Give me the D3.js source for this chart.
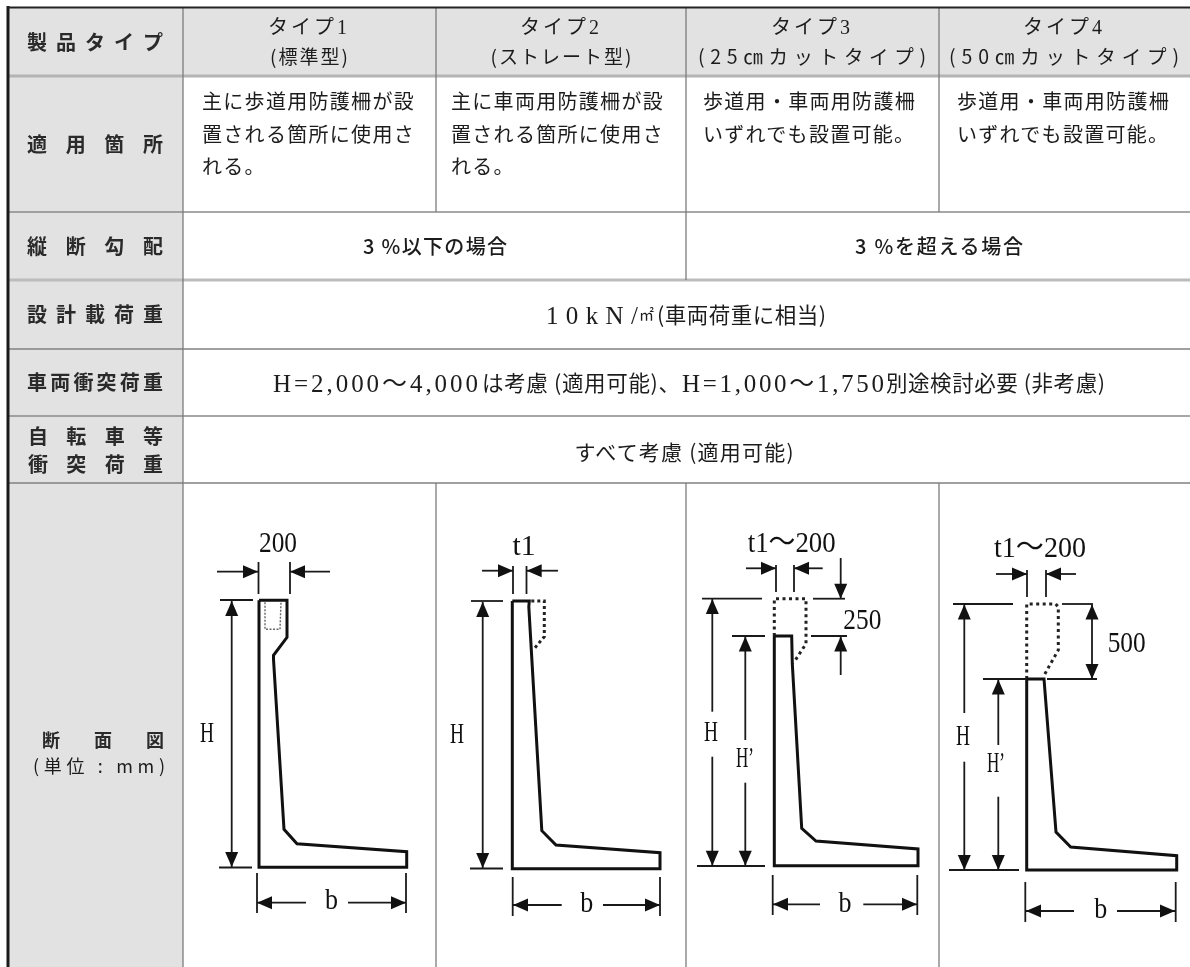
<!DOCTYPE html>
<html lang="ja"><head><meta charset="utf-8">
<script src="https://cdn.jsdelivr.net/npm/d3@7/dist/d3.min.js"></script>
<style>html,body{margin:0;padding:0;background:#fff}svg{display:block;filter:blur(0.35px)}</style>
</head><body><svg id="c" width="1190" height="967"></svg>
<script>
// ---------- table content ----------
const rowLabels = ["製品タイプ","適用箇所","縦断勾配","設計載荷重","車両衝突荷重"];
const rowLabelBikeLines = ["自転車等","衝突荷重"];
const rowLabelSection = "断面図";
const rowLabelSectionUnit = "(単位 : mm)";
const typeNames = ["タイプ1","タイプ2","タイプ3","タイプ4"];
const typeSubNames = ["(標準型)","(ストレート型)","(25㎝カットタイプ)","(50㎝カットタイプ)"];
const siteLines = [
  ["主に歩道用防護柵が設","置される箇所に使用さ","れる。"],
  ["主に車両用防護柵が設","置される箇所に使用さ","れる。"],
  ["歩道用・車両用防護柵","いずれでも設置可能。"],
  ["歩道用・車両用防護柵","いずれでも設置可能。"]
];
const gradientTexts = ["3 %以下の場合","3 %を超える場合"];
const designLoadParts = ["10kN/","㎡","(車両荷重に相当)"];
const impactParts = ["H=2,000〜4,000","は考慮 (適用可能)、","H=1,000〜1,750","別途検討必要 (非考慮)"];
const bikeText = "すべて考慮 (適用可能)";

// ---------- wall section profiles: [distance from heel, height above base] ----------
const type1Solid  = [[0,267],[28,267],[28,230],[14.5,212],[14.5,208],[25,38],[38,23.5],[147.7,15.6],[147.7,0],[0,0],[0,267]];
const type1Dotted = [[6,265],[6,238],[21,238],[22,265]];
const type2Solid  = [[0,267.6],[17,267.6],[16.5,262],[29.5,38],[43.7,23.7],[147.7,16],[147.7,0],[0,0],[0,267.6]];
const type2Dotted = [[19,267.6],[32,267.6],[32,232],[21,219]];
const type3Solid  = [[0,229.7],[17.4,229.7],[18,202],[27.4,37.4],[41.7,24.7],[143.7,16.7],[143.7,0],[0,0],[0,229.7]];
const type3Dotted = [[0,229.7],[0,267],[31.7,267],[31.7,222],[20.7,205]];
const type4Solid  = [[0,191],[17.3,191],[29.3,38],[44,23],[150,14.3],[150,0],[0,0],[0,191]];
const type4Dotted = [[0,191],[0,266],[29,266],[31.6,263],[31.6,220],[17,194]];

// ---------- layout ----------
const W = 1190, H = 967;
const MONO = '"Liberation Serif","Noto Sans CJK JP",serif';
const JP = '"Liberation Serif","Noto Sans CJK JP",sans-serif';
const GOTHIC = '"Noto Sans CJK JP",sans-serif';

const svg = d3.select("#c");
svg.append("rect").attr("width",W).attr("height",H).attr("fill","#fff");
const gGrid = svg.append("g"), gText = svg.append("g"), gDraw = svg.append("g");

gGrid.append("rect").attr("x",8).attr("y",8).attr("width",175).attr("height",H-8).attr("fill","#e2e2e2");
gGrid.append("rect").attr("x",183).attr("y",8).attr("width",W-183).attr("height",68).attr("fill","#e2e2e2");

const hLines = [[76,3,"#b4b4b4"],[212,1.5,"#8a8a8a"],[280,3,"#bcbcbc"],[349,1.5,"#808080"],[416,1.5,"#8a8a8a"],[483,1.5,"#808080"]];
gGrid.selectAll("line.h").data(hLines).join("line").attr("class","h")
  .attr("x1",8).attr("x2",W).attr("y1",d=>d[0]).attr("y2",d=>d[0])
  .attr("stroke-width",d=>d[1]).attr("stroke",d=>d[2]);
const vLines = [[183,8,967],[436,8,212],[436,483,967],[686,8,280],[686,483,967],[939,8,212],[939,483,967]];
gGrid.selectAll("line.v").data(vLines).join("line").attr("class","v")
  .attr("x1",d=>d[0]).attr("x2",d=>d[0]).attr("y1",d=>d[1]).attr("y2",d=>d[2])
  .attr("stroke","#7c7c7c").attr("stroke-width",1.3);
gGrid.append("line").attr("x1",8).attr("x2",8).attr("y1",6).attr("y2",967).attr("stroke","#1a1a1a").attr("stroke-width",3);
gGrid.append("line").attr("x1",7).attr("x2",W).attr("y1",7.5).attr("y2",7.5).attr("stroke","#222").attr("stroke-width",2);

function text(g,x,y,s,o={}){
  const t = g.append("text").attr("x",x).attr("y",y).attr("dy",".36em").text(s)
    .attr("text-anchor",o.anchor||"middle").attr("font-family",o.font||JP)
    .attr("font-size",o.size||20).attr("font-weight",o.weight||400).attr("fill",o.fill||"#1c1c1c");
  if(o.ls) t.attr("letter-spacing",o.ls);
  if(o.len) t.attr("textLength",o.len).attr("lengthAdjust",o.spacing?"spacing":"spacingAndGlyphs");
  return t;
}
// spread a row label's characters across the first column
function spread(s,y,x0=38,x1=153,size=20){
  const sc = d3.scalePoint().domain(d3.range(s.length)).range([x0,x1]);
  [...s].forEach((c,i)=>text(gText,sc(i),y,c,{size,font:GOTHIC,weight:700,fill:"#2a2a2a"}));
}
const labelY = [43,145,247,315,383];
rowLabels.forEach((s,i)=>spread(s,labelY[i],37,153));
spread(rowLabelBikeLines[0],437,38,153);
spread(rowLabelBikeLines[1],465,38,153);
spread(rowLabelSection,741,51,155,18);
text(gText,99,767,rowLabelSectionUnit,{size:18,font:GOTHIC,len:132,spacing:true});

const colCenter = [309,561,812,1064];
const subLen = [78,141,228,230];
typeNames.forEach((s,i)=>text(gText,colCenter[i],27,s,{size:20,ls:3}));
typeSubNames.forEach((s,i)=>text(gText,colCenter[i],57,s,{size:i<2?19:19.5,font:GOTHIC,len:subLen[i],spacing:true}));

const bodyX = [202,451,703,957], bodyY=[102,135,167];
siteLines.forEach((lines,i)=>lines.forEach((l,j)=>
  text(gText,bodyX[i],bodyY[j],l,{anchor:"start",size:20,font:GOTHIC,ls:1.3})));

text(gText,435,247,gradientTexts[0],{size:20,font:GOTHIC,weight:500,len:144,spacing:true});
text(gText,939,247,gradientTexts[1],{size:20,font:GOTHIC,weight:500,len:168,spacing:true});
const designSpans = [[546,92,25,JP],[639,16,15,GOTHIC],[657,169,21.5,GOTHIC]];
designLoadParts.forEach((s,i)=>text(gText,designSpans[i][0],315,s,{anchor:"start",size:designSpans[i][2],font:designSpans[i][3],len:designSpans[i][1],spacing:true}));
const impactSpans = [[273,205],[482,198],[682,202],[886,219]];
impactParts.forEach((s,i)=>text(gText,impactSpans[i][0],383,s,{anchor:"start",size:i%2?21.5:25,font:i%2?GOTHIC:JP,len:impactSpans[i][1],spacing:true}));
text(gText,684,452,bikeText,{size:21,font:GOTHIC,len:219,spacing:true});

// ---------- wall section drawings ----------
const sections = [
  {x0:259,base:867.3,solid:type1Solid,dotted:type1Dotted,dw:1.4,dd:"2 1.5",dc:"#666"},
  {x0:512.3,base:868.7,solid:type2Solid,dotted:type2Dotted,dw:3,dd:"3 3",dc:"#222"},
  {x0:774.3,base:865.7,solid:type3Solid,dotted:type3Dotted,dw:3,dd:"3 3.5",dc:"#222"},
  {x0:1026.7,base:870,solid:type4Solid,dotted:type4Dotted,dw:3,dd:"3 3.5",dc:"#222"}
];
sections.forEach(s=>{
  const sx = d3.scaleLinear().domain([0,100]).range([s.x0,s.x0+100]);
  const sy = d3.scaleLinear().domain([0,100]).range([s.base,s.base-100]);
  const line = d3.line().x(d=>sx(d[0])).y(d=>sy(d[1]));
  gDraw.append("path").attr("d",line(s.dotted)).attr("fill","none").attr("stroke",s.dc)
    .attr("stroke-width",s.dw).attr("stroke-dasharray",s.dd);
  gDraw.append("path").attr("d",line(s.solid)).attr("fill","none").attr("stroke","#111")
    .attr("stroke-width",3).attr("stroke-linejoin","miter");
});

// dimension annotations
function seg(x1,y1,x2,y2,w=1.8){
  gDraw.append("line").attr("x1",x1).attr("y1",y1).attr("x2",x2).attr("y2",y2)
    .attr("stroke","#1a1a1a").attr("stroke-width",w);
}
function arrow(x1,y1,x2,y2){ // head at (x2,y2)
  seg(x1,y1,x2,y2);
  const a=Math.atan2(y2-y1,x2-x1), L=15, W2=6.5;
  const p=(d,o)=>[x2-d*Math.cos(a)-o*Math.sin(a), y2-d*Math.sin(a)+o*Math.cos(a)];
  gDraw.append("polygon").attr("points",[p(0,0),p(L,W2),p(L,-W2)].map(q=>q.join(",")).join(" ")).attr("fill","#111");
}
const numOpts={size:29,font:MONO,fill:"#111"};
const dim={ // layout of leader lines and dimension labels
 ticks:[
  [258.5,562,258.5,594],[290,562,290,594],[220,600,253,600],[219,867.5,252,867.5],[257,873,257,913],[406,873,406,913],
  [513,566,513,594],[526.5,566,526.5,594],[471,601,503,601],[470,868.5,503,868.5],[512.7,877,512.7,916],[660,877,660,916],
  [776,565,776,592],[794,565,794,592],[702,598.7,762,598.7],[813,598.7,845,598.7],[732,636,765,636],[811,636,847,636],[697,866,765,866],[772.7,875,772.7,915],[917.3,875,917.3,915],
  [1027,570,1027,597],[1046,570,1046,597],[953,604,1013,604],[1062,604,1093,604],[983,679,1027,679],[1047,679,1097,679],[949,870,1019,870],[1025.3,882,1025.3,922],[1175.7,882,1175.7,922]
 ],
 arrows:[
  [217,571.7,258,571.7],[330,571.7,290,571.7],[231.7,700,231.7,601],[231.7,700,231.7,867],[306,902.7,257,902.7],[348,902.7,406,902.7],
  [482,570.7,513,570.7],[558,570.7,526.7,570.7],[482.7,700,482.7,602],[482.7,700,482.7,868],[561.7,905,513,905],[603,905,660,905],
  [746,568.3,776,568.3],[822.7,568.3,794,568.3],[712.3,711.7,712.3,599],[712.3,756.7,712.3,865.7],[745.3,740,745.3,636.5],[745.3,782.7,745.3,865.7],[840.7,558,840.7,598.7],[840.7,675,840.7,636.5],[820,904.3,773,904.3],[863.3,904.3,917,904.3],
  [996,574,1027,574],[1076,574,1046,574],[964.3,713,964.3,604.5],[964.3,761.7,964.3,870],[998.3,745,998.3,679.5],[998.3,796.7,998.3,870],[1092,640,1092,604.5],[1092,640,1092,679],[1074,911,1026,911],[1117,911,1175,911]
 ],
 labels:[
  ["200",278,542,38],["H",207,731.5,14],["b",331.5,899,13],
  ["t1",524,545,23],["H",457,732.5,14],["b",586.7,902,13],
  ["t1〜200",791.7,542,88],["250",862.3,619,38],["H",711,730.5,14],["H’",745,756.5,18],["b",845,902,13],
  ["t1〜200",1040,547,92],["500",1126.7,642,38],["H",963,735,14],["H’",996,761.5,18],["b",1100.7,908,13]
 ]
};
dim.ticks.forEach(d=>seg(...d));
dim.arrows.forEach(d=>arrow(...d));
dim.labels.forEach(d=>text(gDraw,d[1],d[2],d[0],{...numOpts,len:d[3]}));
</script></body></html>
